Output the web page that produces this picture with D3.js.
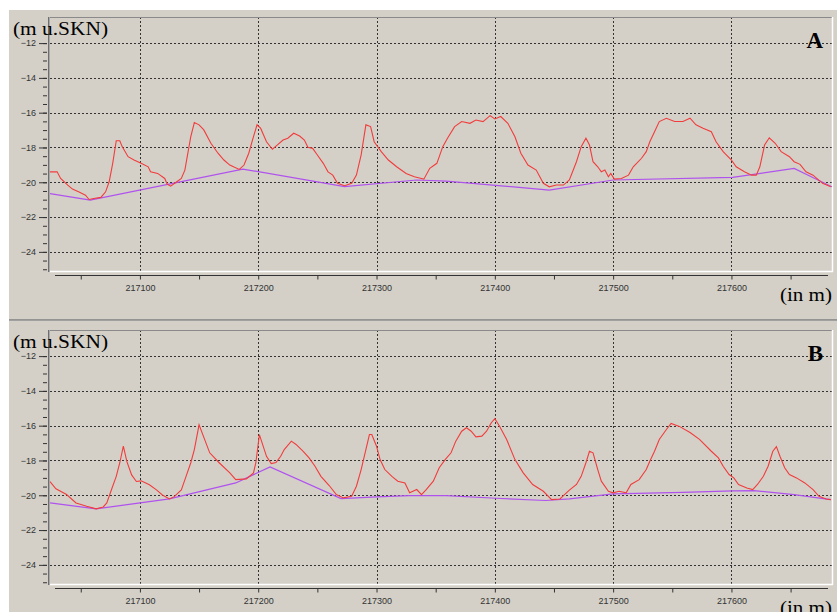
<!DOCTYPE html>
<html>
<head>
<meta charset="utf-8">
<script src="https://cdn.jsdelivr.net/npm/d3@7.9.0/dist/d3.min.js"></script>
<style>
  body { margin: 0; background: #fff; }
  svg { display: block; }
</style>
</head>
<body>
<svg id="chart" width="837" height="612"></svg>
<script>
// profile A (red = terrain, purple = base line)
const distA = [217024,217030,217033,217039,217043,217049,217054,217057,217061,217067,217071,217074,217077,217080,217083,217085,217090,217095,217101,217107,217109,217115,217121,217123,217126,217130,217135,217138,217140,217143,217146,217150,217154,217160,217166,217171,217176,217180,217184,217188,217192,217196,217199,217202,217207,217212,217216,217221,217225,217230,217235,217239,217242,217246,217250,217255,217259,217263,217267,217273,217279,217283,217287,217291,217295,217298,217304,217310,217317,217325,217332,217338,217340,217345,217351,217356,217360,217366,217372,217379,217384,217390,217396,217400,217405,217411,217417,217422,217428,217435,217441,217446,217452,217458,217463,217469,217473,217477,217480,217483,217487,217490,217493,217496,217498,217501,217507,217513,217517,217524,217528,217531,217535,217539,217545,217552,217559,217565,217570,217576,217583,217587,217593,217600,217604,217611,217617,217621,217624,217628,217632,217637,217642,217649,217653,217658,217663,217669,217677,217684];
const elevA = [-19.40,-19.40,-19.78,-20.16,-20.39,-20.58,-20.74,-20.99,-20.93,-20.87,-20.55,-19.97,-18.91,-17.61,-17.61,-17.95,-18.53,-18.72,-18.91,-19.11,-19.40,-19.49,-19.78,-20.10,-20.22,-20.03,-19.78,-19.30,-18.53,-17.38,-16.57,-16.70,-16.99,-17.76,-18.33,-18.72,-19.01,-19.14,-19.26,-19.01,-18.33,-17.38,-16.70,-16.89,-17.67,-18.10,-17.86,-17.57,-17.47,-17.18,-17.34,-17.57,-17.99,-18.05,-18.43,-18.91,-19.40,-19.59,-20.06,-20.20,-20.06,-19.59,-18.43,-16.70,-16.80,-17.67,-18.24,-18.72,-19.11,-19.49,-19.68,-19.78,-19.82,-19.20,-18.91,-17.95,-17.47,-16.80,-16.51,-16.61,-16.42,-16.51,-16.17,-16.36,-16.22,-16.61,-17.38,-18.33,-19.01,-19.30,-20.06,-20.26,-20.16,-20.16,-19.87,-18.82,-17.95,-17.47,-17.86,-18.82,-19.11,-19.40,-19.30,-19.68,-19.49,-19.82,-19.78,-19.59,-19.11,-18.62,-18.24,-17.67,-17.09,-16.51,-16.32,-16.51,-16.51,-16.32,-16.70,-16.89,-17.09,-17.67,-18.24,-18.72,-19.11,-19.40,-19.59,-19.59,-19.11,-17.86,-17.44,-17.76,-18.24,-18.53,-18.82,-18.97,-19.40,-19.59,-20.06,-20.26];
const baseDistA = [217024,217058,217187,217273,217334,217359,217446,217500,217601,217653,217685];
const baseElevA = [-20.65,-21.03,-19.24,-20.25,-19.87,-19.93,-20.45,-19.87,-19.72,-19.20,-20.26];

// profile B
const distB = [217024,217029,217038,217046,217055,217063,217069,217072,217076,217080,217083,217086,217089,217093,217097,217101,217108,217114,217119,217125,217129,217135,217139,217143,217146,217150,217159,217167,217176,217181,217190,217196,217198,217201,217207,217211,217215,217219,217222,217228,217232,217238,217243,217248,217253,217260,217266,217272,217279,217283,217287,217291,217294,217296,217300,217303,217307,217313,217318,217324,217328,217334,217338,217342,217348,217353,217358,217363,217367,217372,217376,217380,217384,217389,217393,217397,217400,217404,217410,217417,217424,217432,217441,217448,217455,217463,217469,217473,217477,217480,217483,217487,217490,217496,217500,217505,217511,217515,217522,217528,217531,217535,217539,217545,217549,217556,217565,217573,217583,217589,217593,217598,217602,217606,217613,217618,217622,217627,217631,217635,217638,217641,217645,217649,217655,217662,217669,217674,217680,217684];
const elevB = [-19.21,-19.63,-19.96,-20.44,-20.63,-20.78,-20.67,-20.44,-19.67,-18.91,-18.13,-17.18,-18.07,-18.83,-19.21,-19.17,-19.40,-19.69,-19.98,-20.21,-20.08,-19.69,-18.91,-18.13,-17.37,-15.95,-17.56,-18.13,-18.71,-19.10,-19.06,-18.71,-18.13,-16.51,-17.76,-18.18,-18.12,-17.76,-17.37,-16.89,-17.08,-17.47,-17.85,-18.33,-18.91,-19.44,-19.96,-20.15,-20.06,-19.48,-18.52,-17.37,-16.51,-16.51,-17.18,-17.95,-18.52,-18.91,-19.19,-19.29,-19.86,-19.67,-19.96,-19.67,-19.19,-18.42,-17.95,-17.56,-16.89,-16.32,-16.12,-16.32,-16.64,-16.60,-16.32,-15.83,-15.60,-16.03,-16.79,-17.95,-18.71,-19.38,-19.77,-20.25,-20.21,-19.70,-19.38,-18.91,-18.13,-17.47,-17.56,-18.52,-19.19,-19.77,-19.86,-19.77,-19.86,-19.38,-19.10,-18.52,-18.04,-17.47,-16.79,-16.22,-15.87,-16.04,-16.39,-16.79,-17.47,-17.85,-18.33,-18.81,-19.00,-19.38,-19.58,-19.67,-19.38,-18.91,-18.33,-17.47,-17.20,-17.76,-18.42,-18.81,-19.00,-19.29,-19.67,-20.06,-20.21,-20.25];
const baseDistB = [217024,217063,217125,217181,217210,217270,217300,217328,217359,217401,217443,217463,217500,217559,217601,217619,217653,217684];
const baseElevB = [-20.44,-20.78,-20.21,-19.29,-18.37,-20.19,-20.09,-20.02,-20.02,-20.17,-20.30,-20.21,-19.92,-19.83,-19.75,-19.73,-19.96,-20.25];

// axis ticks
const yTicks = [-12, -14, -16, -18, -20, -22, -24];
const yMinor = d3.range(-25, -11.9, 0.5);
const xTicks = [217100, 217200, 217300, 217400, 217500, 217600];
const xMinor = [217050, 217150, 217250, 217350, 217450, 217550, 217650];

const svg = d3.select('#chart');
const bg = '#d4d0c8';

const x = d3.scaleLinear().domain([217024, 217685]).range([50, 832]);
const y = d3.scaleLinear().domain([-25.1, -10.5]).range([271, 17]);

const line = d3.line().x(d => x(d[0])).y(d => y(d[1]));

// panel backgrounds
svg.append('rect').attr('x', 9).attr('y', 10).attr('width', 828).attr('height', 310).attr('fill', bg);
svg.append('rect').attr('x', 9).attr('y', 321).attr('width', 828).attr('height', 291).attr('fill', bg);
svg.append('line').attr('x1', 9).attr('x2', 837).attr('y1', 320).attr('y2', 320)
  .attr('stroke', '#808080').attr('stroke-width', 1.5);

function drawPanel(dy, dist, elev, bDist, bElev, label, id) {
  const g = svg.append('g').attr('transform', `translate(0,${dy})`);

  g.append('clipPath').attr('id', id).append('rect')
    .attr('x', 50).attr('y', 17).attr('width', 782).attr('height', 254);

  // grid
  g.selectAll('.hgrid').data(yTicks).join('line')
    .attr('x1', 50).attr('x2', 832)
    .attr('y1', d => Math.round(y(d)) + 0.5).attr('y2', d => Math.round(y(d)) + 0.5)
    .attr('stroke', '#333').attr('stroke-dasharray', '2,2');
  g.selectAll('.vgrid').data(xTicks).join('line')
    .attr('x1', d => Math.round(x(d)) + 0.5).attr('x2', d => Math.round(x(d)) + 0.5)
    .attr('y1', 17).attr('y2', 271)
    .attr('stroke', '#333').attr('stroke-dasharray', '2,2');

  // frame
  g.append('line').attr('x1', 48).attr('x2', 832).attr('y1', 17.5).attr('y2', 17.5).attr('stroke', '#8a8a8a');
  g.append('line').attr('x1', 48.5).attr('x2', 48.5).attr('y1', 17).attr('y2', 272).attr('stroke', '#6e6e6e');
  g.append('line').attr('x1', 49.5).attr('x2', 49.5).attr('y1', 17).attr('y2', 272).attr('stroke', '#a8a8a8');
  g.append('line').attr('x1', 50).attr('x2', 833).attr('y1', 271.5).attr('y2', 271.5).attr('stroke', '#fff').attr('stroke-width', 1.5);
  g.append('line').attr('x1', 832.5).attr('x2', 832.5).attr('y1', 17).attr('y2', 272).attr('stroke', '#fff').attr('stroke-width', 1.5);

  // lines
  g.append('path').datum(d3.zip(bDist, bElev)).attr('d', line)
    .attr('fill', 'none').attr('stroke', '#b052ee').attr('stroke-width', 1.2)
    .attr('clip-path', `url(#${id})`);
  g.append('path').datum(d3.zip(dist, elev)).attr('d', line)
    .attr('fill', 'none').attr('stroke', '#f23c3c').attr('stroke-width', 1.1)
    .attr('clip-path', `url(#${id})`);

  // y axis
  const ya = g.append('g').attr('transform', 'translate(47,0)')
    .call(d3.axisLeft(y).tickValues(yTicks).tickSize(8).tickPadding(3).tickFormat(d3.format('d')));
  g.append('g').attr('transform', 'translate(47,0)')
    .call(d3.axisLeft(y).tickValues(yMinor).tickSize(4).tickFormat(''))
    .select('.domain').remove();
  ya.select('.domain').remove();
  ya.selectAll('text').attr('font-family', 'Liberation Sans, Arial, sans-serif')
    .attr('font-size', 9).attr('fill', '#333');
  g.selectAll('.tick line').attr('stroke', '#333');

  // x axis
  const xa = g.append('g').attr('transform', 'translate(0,275.5)')
    .call(d3.axisBottom(x).tickValues(xTicks.concat(xMinor)).tickSize(4).tickPadding(5)
      .tickFormat(d => xTicks.includes(d) ? d3.format('d')(d) : ''));
  xa.select('.domain').remove();
  xa.append('line').attr('x1', 55).attr('x2', 828).attr('y1', 0).attr('y2', 0).attr('stroke', '#333');
  xa.selectAll('text').attr('font-family', 'Liberation Sans, Arial, sans-serif')
    .attr('font-size', 9).attr('fill', '#333');
  xa.selectAll('.tick line').attr('stroke', '#333');

  // labels
  g.append('text').attr('x', 13).attr('y', 35)
    .attr('font-family', 'Liberation Serif, Times New Roman, serif').attr('font-size', 18)
    .attr('textLength', 95).attr('lengthAdjust', 'spacingAndGlyphs')
    .text('(m u.SKN)');
  g.append('text').attr('x', 780).attr('y', 301)
    .attr('font-family', 'Liberation Serif, Times New Roman, serif').attr('font-size', 18)
    .attr('textLength', 52).attr('lengthAdjust', 'spacingAndGlyphs')
    .text('(in m)');
  g.append('text').attr('x', 823).attr('y', 48).attr('text-anchor', 'end')
    .attr('font-family', 'Liberation Serif, Times New Roman, serif').attr('font-size', 23)
    .attr('font-weight', 'bold')
    .text(label);
}

drawPanel(0, distA, elevA, baseDistA, baseElevA, 'A', 'clipA');
drawPanel(313, distB, elevB, baseDistB, baseElevB, 'B', 'clipB');
</script>
</body>
</html>
